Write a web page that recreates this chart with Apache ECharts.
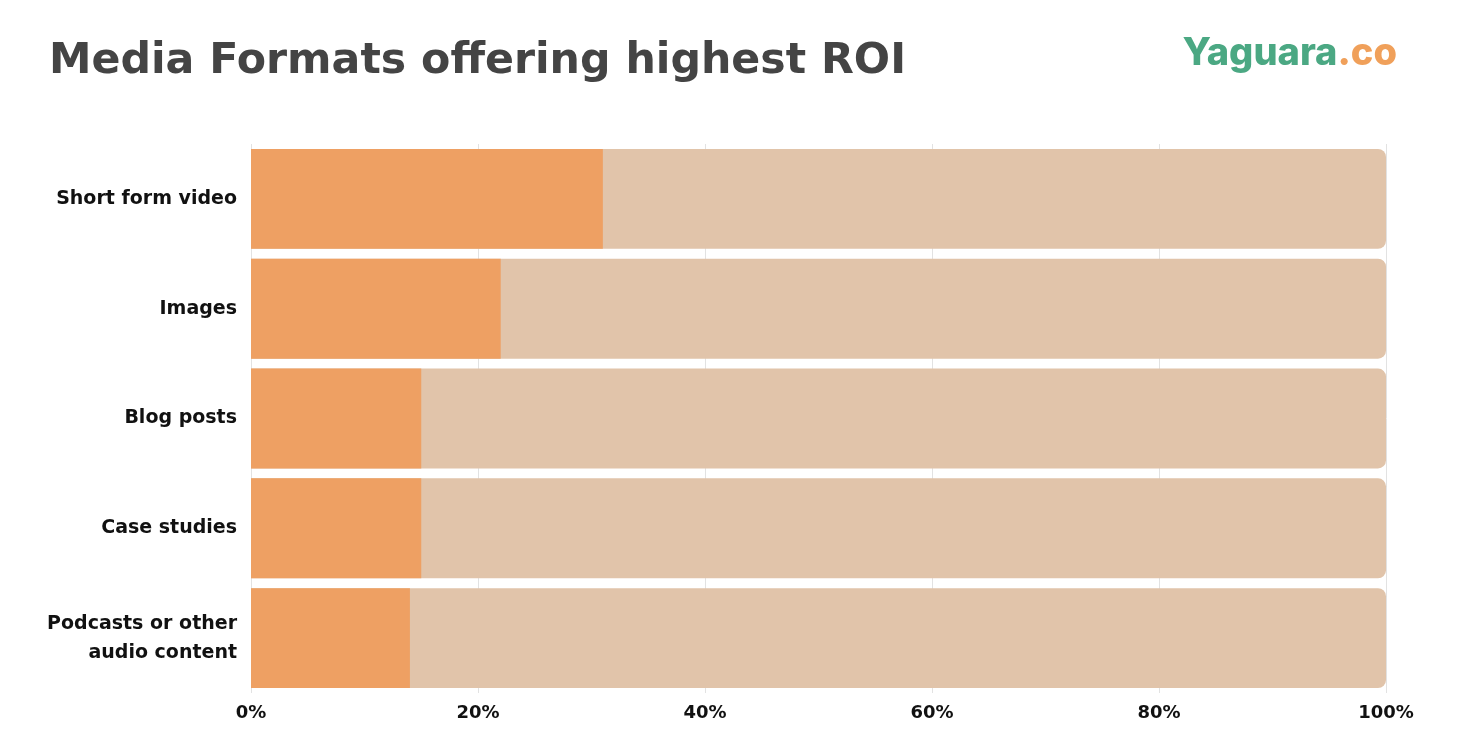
<!DOCTYPE html>
<html>
<head>
<meta charset="utf-8">
<script src="https://cdn.jsdelivr.net/npm/echarts@6/dist/echarts.min.js"></script>
<style>
html,body{margin:0;padding:0;background:#fff;}
#c{width:1470px;height:748px;}
</style>
</head>
<body>
<div id="c"></div>
<script>
var categories = ['Short form video', 'Images', 'Blog posts', 'Case studies', 'Podcasts or other\naudio content'];
var values = [31, 22, 15, 15, 14];
var tickLabels = ['0%', '20%', '40%', '60%', '80%', '100%'];

var FONT = 'Inter, "Noto Sans", sans-serif';
var WIDE = '"DejaVu Sans", sans-serif';
var chart = echarts.init(document.getElementById('c'));
chart.setOption({
  backgroundColor: '#ffffff',
  animation: false,
  title: [{
    text: 'Media Formats offering highest ROI',
    left: 44, top: 35,
    textStyle: {fontFamily: WIDE, fontSize: 42.7, fontWeight: 'bold', color: '#444444'}
  }, {
    text: '{a|Yaguara}{b|.co}',
    right: 68, top: 30,
    textStyle: {
      rich: {
        a: {fontFamily: FONT, fontSize: 38, fontWeight: 800, color: '#4BA883'},
        b: {fontFamily: FONT, fontSize: 38, fontWeight: 800, color: '#F0A05A'}
      }
    }
  }],
  grid: {left: 251, right: 84, top: 144, bottom: 55, containLabel: false},
  xAxis: {
    type: 'value', min: 0, max: 100, interval: 20,
    axisLine: {show: false}, axisTick: {show: false},
    splitLine: {show: true, lineStyle: {color: '#e2e2e2', width: 1}},
    axisLabel: {
      fontFamily: WIDE, fontSize: 18, fontWeight: 'bold', color: '#111', margin: 11,
      formatter: function (v) { return tickLabels[Math.round(v / 20)]; }
    }
  },
  yAxis: {
    type: 'category', data: categories, inverse: true,
    axisLine: {show: false}, axisTick: {show: false},
    axisLabel: {fontFamily: WIDE, fontSize: 19, fontWeight: 'bold', color: '#111', margin: 14, lineHeight: 29, align: 'right'}
  },
  series: [{
    type: 'bar', data: values, barCategoryGap: '9%',
    itemStyle: {color: '#EEA063'},
    showBackground: true,
    backgroundStyle: {color: '#E1C4AA', borderRadius: [0, 8, 8, 0]}
  }]
});
</script>
</body>
</html>
